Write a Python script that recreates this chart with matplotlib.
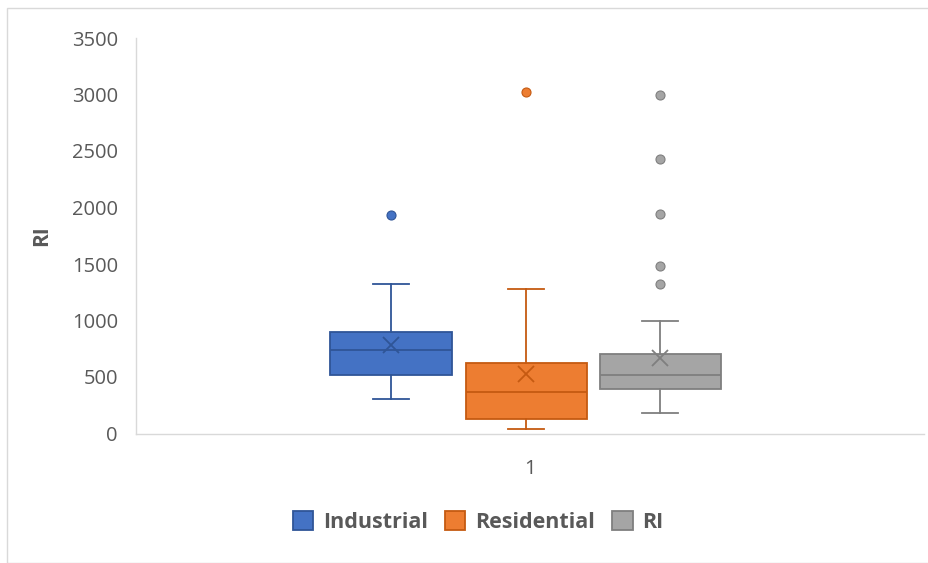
import matplotlib.pyplot as plt
from matplotlib.patches import Rectangle

plt.rcParams['font.family'] = ['Open Sans', 'DejaVu Sans']

# box statistics per series
series = ['Industrial', 'Residential', 'RI']
q1 = [520, 126, 394]
median = [739, 365, 518]
q3 = [896, 627, 704]
whisker_low = [305, 40, 184]
whisker_high = [1323, 1279, 996]
means = [783, 524, 671]
outliers = [[1936], [3022], [1323, 1485, 1940, 2429, 2996]]

fills = ['#4472C4', '#ED7D31', '#A5A5A5']
edges = ['#2F5597', '#C55A11', '#7F7F7F']
positions = [0.3236, 0.495, 0.665]

fig = plt.figure(figsize=(9.29, 5.63), dpi=100)
ax = fig.add_axes([136 / 929, 1 - 433.5 / 563, 788 / 929, (433.5 - 38) / 563])

for i, name in enumerate(series):
    stats = [dict(label=name, q1=q1[i], med=median[i], q3=q3[i],
                  whislo=whisker_low[i], whishi=whisker_high[i],
                  mean=means[i], fliers=outliers[i])]
    ec = edges[i]
    ax.bxp(stats, positions=[positions[i]], widths=0.1536, capwidths=0.046,
           patch_artist=True, showmeans=True, manage_ticks=False,
           boxprops=dict(facecolor=fills[i], edgecolor=ec, linewidth=1.3),
           medianprops=dict(color=ec, linewidth=1.3),
           whiskerprops=dict(color=ec, linewidth=1.3),
           capprops=dict(color=ec, linewidth=1.3),
           meanprops=dict(marker='x', markeredgecolor=ec, markersize=11,
                          markeredgewidth=1.3),
           flierprops=dict(marker='o', markerfacecolor=fills[i],
                           markeredgecolor=ec, markersize=6.5,
                           markeredgewidth=0.8))

ax.set_xlim(0, 1)
ax.set_ylim(0, 3500)
ax.set_yticks(range(0, 3501, 500))
ax.set_xticks([0.5])
ax.set_xticklabels(['1'])
ax.tick_params(length=0, labelsize=14.5, colors='#595959', pad=13)
ax.tick_params(axis='x', pad=18)
for s in ['top', 'right']:
    ax.spines[s].set_visible(False)
for s in ['left', 'bottom']:
    ax.spines[s].set_color('#D9D9D9')
    ax.spines[s].set_linewidth(1.0)

ax.set_ylabel('RI', fontsize=15, fontweight='bold', color='#595959', labelpad=14)

handles = [Rectangle((0, 0), 1, 1, facecolor=fills[i], edgecolor=edges[i], linewidth=1.3)
           for i in range(3)]
leg = fig.legend(handles, series, loc='center', bbox_to_anchor=(478 / 929, 1 - 522 / 563),
                 ncol=3, frameon=False, handlelength=0.95, handleheight=0.95,
                 handletextpad=0.45, columnspacing=0.8,
                 prop=dict(size=15.5, weight='bold'))
for t in leg.get_texts():
    t.set_color('#595959')

# outer chart frame
fig.add_artist(Rectangle((7 / 929, 0), 1.1, 1 - 8 / 563, transform=fig.transFigure,
                         fill=False, edgecolor='#D9D9D9', linewidth=1.0))

fig.savefig('out.png', dpi=100)
